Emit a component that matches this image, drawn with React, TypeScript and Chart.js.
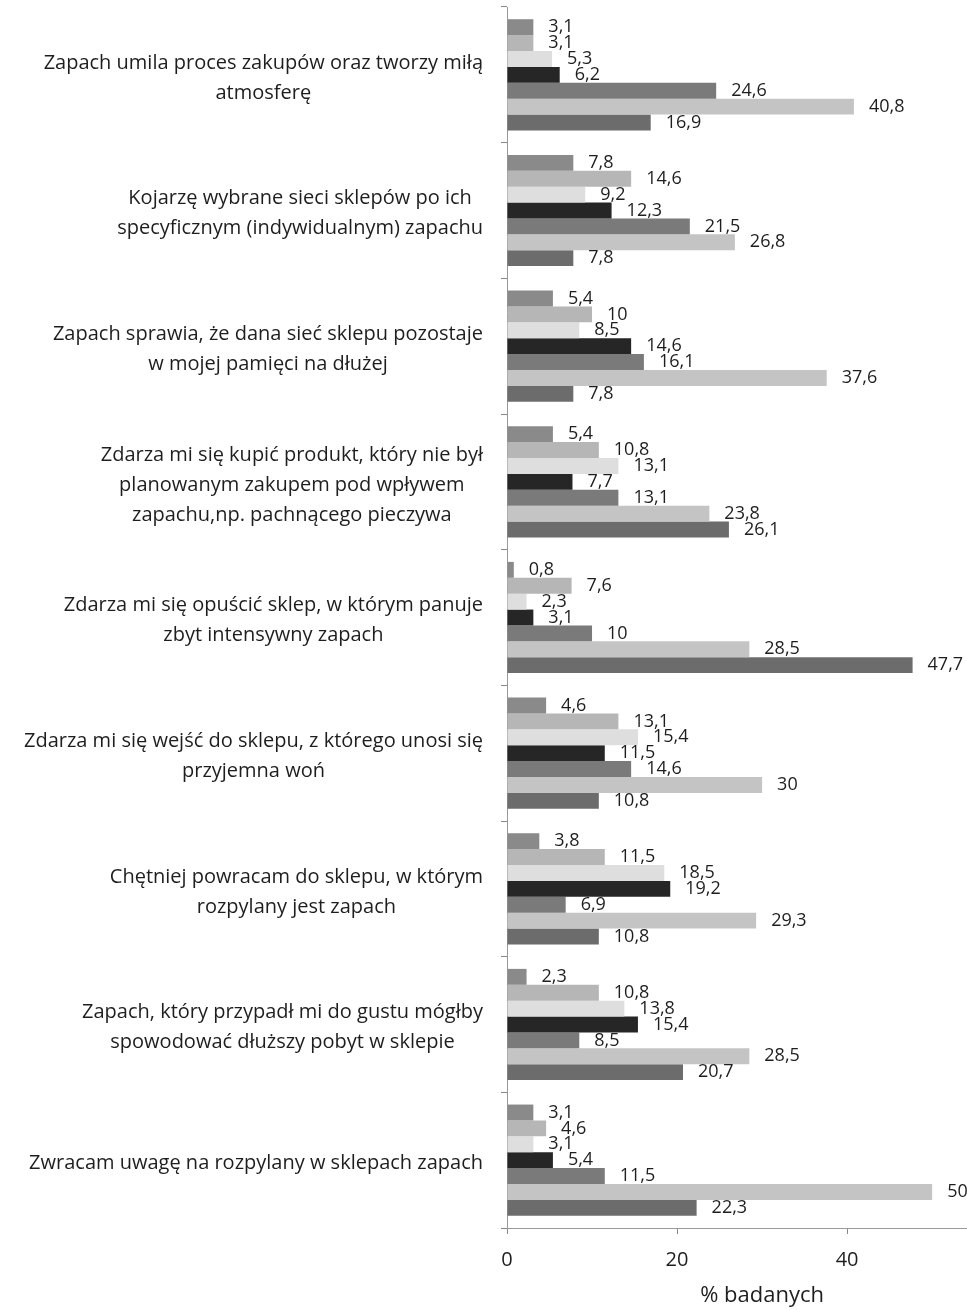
import React, { useEffect, useRef } from "react";
import { Chart, registerables } from "chart.js";

Chart.register(...registerables);

const categories: string[][] = [
  ["Zapach umila proces zakupów oraz tworzy miłą", "atmosferę"],
  ["Kojarzę wybrane sieci sklepów po ich", "specyficznym (indywidualnym) zapachu"],
  ["Zapach sprawia, że dana sieć sklepu pozostaje", "w mojej pamięci na dłużej"],
  ["Zdarza mi się kupić produkt, który nie był", "planowanym zakupem pod wpływem", "zapachu,np. pachnącego pieczywa"],
  ["Zdarza mi się opuścić sklep, w którym panuje", "zbyt intensywny zapach"],
  ["Zdarza mi się wejść do sklepu, z którego unosi się", "przyjemna woń"],
  ["Chętniej powracam do sklepu, w którym", "rozpylany jest zapach"],
  ["Zapach, który przypadł mi do gustu mógłby", "spowodować dłuższy pobyt w sklepie"],
  ["Zwracam uwagę na rozpylany w sklepach zapach"],
];

const series1 = [3.1, 7.8, 5.4, 5.4, 0.8, 4.6, 3.8, 2.3, 3.1];
const series2 = [3.1, 14.6, 10, 10.8, 7.6, 13.1, 11.5, 10.8, 4.6];
const series3 = [5.3, 9.2, 8.5, 13.1, 2.3, 15.4, 18.5, 13.8, 3.1];
const series4 = [6.2, 12.3, 14.6, 7.7, 3.1, 11.5, 19.2, 15.4, 5.4];
const series5 = [24.6, 21.5, 16.1, 13.1, 10, 14.6, 6.9, 8.5, 11.5];
const series6 = [40.8, 26.8, 37.6, 23.8, 28.5, 30, 29.3, 28.5, 50];
const series7 = [16.9, 7.8, 7.8, 26.1, 47.7, 10.8, 10.8, 20.7, 22.3];

const xTicks = [0, 20, 40];
const xTitle = "% badanych";

const seriesList = [series1, series2, series3, series4, series5, series6, series7];
const seriesColors = ["#8a8a8a", "#b6b6b6", "#dedede", "#262626", "#7a7a7a", "#c4c4c4", "#6c6c6c"];

const FONT = '"Open Sans", "Noto Sans", sans-serif';
const TEXT = "#1e1e1e";
const LINE_H = 30;

const yLabelPlugin = {
  id: "yLabelPlugin",
  afterDraw(chart: any) {
    const ctx = chart.ctx;
    const y = chart.scales.y;
    const x = chart.scales.x;
    ctx.save();
    ctx.font = `20px ${FONT}`;
    ctx.fillStyle = TEXT;
    ctx.textAlign = "center";
    ctx.textBaseline = "middle";
    const right = y.right - 24;
    categories.forEach((lines, i) => {
      const cy = y.getPixelForValue(i) + 3;
      const w = Math.max(...lines.map((l) => ctx.measureText(l).width));
      const cx = right - w / 2;
      lines.forEach((l, j) => {
        ctx.fillText(l, cx, cy + (j - (lines.length - 1) / 2) * LINE_H);
      });
    });
    // axis title
    ctx.font = `22px ${FONT}`;
    ctx.fillText(xTitle, x.getPixelForValue(30), x.bottom - 14);
    ctx.restore();
  },
};

const valueLabelPlugin = {
  id: "valueLabelPlugin",
  afterDatasetsDraw(chart: any) {
    const ctx = chart.ctx;
    ctx.save();
    ctx.font = `18px ${FONT}`;
    ctx.fillStyle = TEXT;
    ctx.textAlign = "left";
    ctx.textBaseline = "middle";
    chart.data.datasets.forEach((ds: any, di: number) => {
      const meta = chart.getDatasetMeta(di);
      meta.data.forEach((bar: any, i: number) => {
        const v = ds.data[i];
        ctx.fillText(String(v).replace(".", ","), bar.x + 15, bar.y);
      });
    });
    ctx.restore();
  },
};

export default function App() {
  const ref = useRef<HTMLCanvasElement | null>(null);
  useEffect(() => {
    if (!ref.current) return;
    const chart = new Chart(ref.current, {
      type: "bar",
      data: {
        labels: categories.map((c) => c.join(" ")),
        datasets: seriesList.map((s, i) => ({
          label: `S${i + 1}`,
          data: s,
          backgroundColor: seriesColors[i],
          borderWidth: 0,
          categoryPercentage: 0.82,
          barPercentage: 1.0,
        })),
      },
      options: {
        indexAxis: "y",
        animation: false,
        responsive: true,
        maintainAspectRatio: false,
        layout: { padding: { top: 7, right: 0, bottom: 0, left: 0 } },
        plugins: { legend: { display: false }, tooltip: { enabled: false } },
        scales: {
          x: {
            type: "linear",
            min: 0,
            max: 54.1,
            afterBuildTicks: (scale: any) => {
              scale.ticks = xTicks.map((v) => ({ value: v }));
            },
            afterFit: (scale: any) => {
              scale.height = 82;
            },
            grid: { drawOnChartArea: false, tickLength: 6, color: "#888" },
            border: { color: "#999", dash: [2, 2] },
            ticks: { font: { family: FONT, size: 20 }, color: TEXT, padding: 14 },
            title: { display: false },
          },
          y: {
            type: "category",
            afterFit: (scale: any) => {
              scale.width = 507;
            },
            ticks: { display: false },
            grid: { offset: true, drawOnChartArea: false, tickLength: 6, color: "#888" },
            border: { color: "#999", dash: [2, 2] },
          },
        },
      },
      plugins: [yLabelPlugin, valueLabelPlugin],
    });
    return () => chart.destroy();
  }, []);
  return (
    <div style={{ position: "absolute", left: 0, top: 0, width: 967, height: 1310 }}>
      <canvas ref={ref} />
    </div>
  );
}
